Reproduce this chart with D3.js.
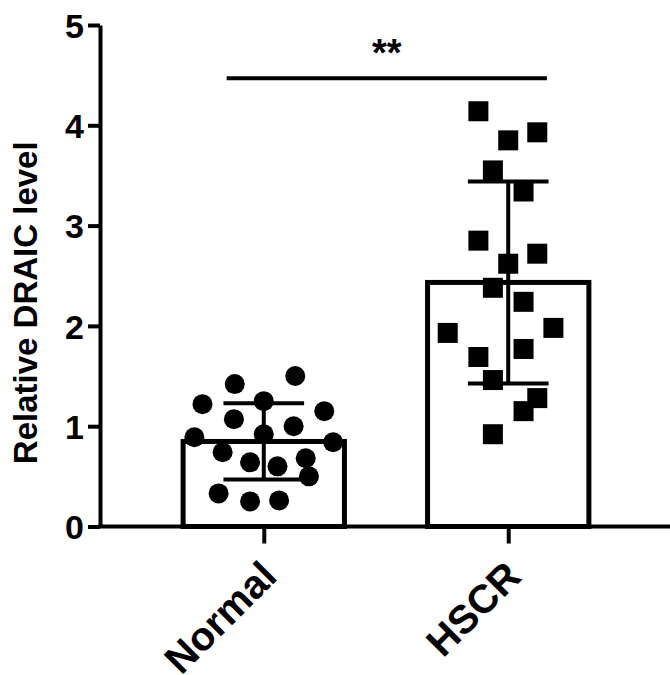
<!DOCTYPE html>
<html>
<head>
<meta charset="utf-8">
<script src="https://cdn.jsdelivr.net/npm/d3@7"></script>
<style>
  html, body { margin: 0; padding: 0; background: #fff; }
  svg text { font-family: "Liberation Sans", Arial, sans-serif; font-weight: bold; fill: #000; }
</style>
</head>
<body>
<div id="chart"></div>
<script>
// values
const groups = ['Normal', 'HSCR']
const normalValues = [1.50, 1.42, 1.22, 1.25, 1.15, 1.07, 1.00, 0.92, 0.89, 0.84, 0.74, 0.64, 0.60, 0.68, 0.50, 0.33, 0.25, 0.26]
const hscrValues = [4.14, 3.93, 3.85, 3.55, 3.34, 2.85, 2.72, 2.62, 2.38, 2.24, 1.93, 1.98, 1.69, 1.77, 1.46, 1.28, 1.15, 0.92]
// horizontal scatter of the dots, as share of half a bar width
const normalJitter = [0.39, -0.36, -0.76, 0, 0.75, -0.37, 0.37, 0, -0.86, 0.86, -0.51, -0.17, 0.17, 0.52, 0.56, -0.56, -0.17, 0.19]
const hscrJitter = [-0.37, 0.36, 0, -0.19, 0.19, -0.37, 0.36, 0, -0.19, 0.19, -0.75, 0.56, -0.37, 0.19, -0.19, 0.36, 0.19, -0.19]
const yTicks = [0, 1, 2, 3, 4, 5]
const yTitle = 'Relative DRAIC level'
const sigLabel = '**'
const sigLevel = 4.47

const width = 670, height = 675
const margin = {top: 25, right: 0, bottom: 148, left: 100}

const svg = d3.select('#chart')
    .append('svg')
        .attr('width', width)
        .attr('height', height)

const x = d3.scalePoint()
    .domain(groups)
    .range([margin.left, 672])
    .padding(0.67)

const y = d3.scaleLinear()
    .domain([0, 5])
    .range([height - margin.bottom - 0.5, margin.top])

const barWidth = x.step() * 0.66
const half = d3.scaleLinear().domain([-1, 1]).range([-barWidth / 2, barWidth / 2])

const series = [
    {name: 'Normal', values: normalValues, jitter: normalJitter, shape: 'circle'},
    {name: 'HSCR', values: hscrValues, jitter: hscrJitter, shape: 'square'}
]
series.forEach(s => {
    s.mean = d3.mean(s.values)
    s.sd = d3.deviation(s.values)
})

// bars
svg.selectAll('rect.bar')
    .data(series)
    .enter().append('rect')
        .attr('class', 'bar')
        .attr('x', d => x(d.name) - barWidth / 2)
        .attr('y', d => y(d.mean))
        .attr('width', barWidth)
        .attr('height', d => y(0) - y(d.mean))
        .attr('fill', '#fff')
        .attr('stroke', '#000')
        .attr('stroke-width', 5)

// error bars (mean +/- SD)
const capWidth = barWidth * 0.5
const err = svg.selectAll('g.err')
    .data(series)
    .enter().append('g')
        .attr('class', 'err')
        .attr('stroke', '#000')
        .attr('stroke-width', 4)
err.append('line')
    .attr('x1', d => x(d.name)).attr('x2', d => x(d.name))
    .attr('y1', d => y(d.mean + d.sd)).attr('y2', d => y(d.mean - d.sd))
err.append('line')
    .attr('x1', d => x(d.name) - capWidth / 2).attr('x2', d => x(d.name) + capWidth / 2)
    .attr('y1', d => y(d.mean + d.sd)).attr('y2', d => y(d.mean + d.sd))
err.append('line')
    .attr('x1', d => x(d.name) - capWidth / 2).attr('x2', d => x(d.name) + capWidth / 2)
    .attr('y1', d => y(d.mean - d.sd)).attr('y2', d => y(d.mean - d.sd))

// dots
const dotSize = 20
series.forEach(s => {
    const pts = s.values.map((v, i) => ({v: v, j: s.jitter[i]}))
    if (s.shape === 'circle') {
        svg.selectAll(null)
            .data(pts)
            .enter().append('circle')
                .attr('cx', d => x(s.name) + half(d.j))
                .attr('cy', d => y(d.v))
                .attr('r', dotSize / 2)
                .attr('fill', '#000')
    } else {
        svg.selectAll(null)
            .data(pts)
            .enter().append('rect')
                .attr('x', d => x(s.name) + half(d.j) - dotSize / 2)
                .attr('y', d => y(d.v) - dotSize / 2)
                .attr('width', dotSize)
                .attr('height', dotSize)
                .attr('fill', '#000')
    }
})

// axes
const yAxis = svg.append('g')
    .attr('transform', `translate(${margin.left}, 0)`)
    .call(d3.axisLeft(y).tickValues(yTicks).tickFormat(d3.format('d')).tickSize(12).tickSizeOuter(0).tickPadding(4))
yAxis.selectAll('path, line').attr('stroke', '#000').attr('stroke-width', 4)
yAxis.selectAll('text').style('font-size', '34px').attr('dy', '0.36em')

const xAxis = svg.append('g')
    .attr('transform', `translate(0, ${y(0)})`)
    .call(d3.axisBottom(x).tickSize(17).tickSizeOuter(0).tickFormat(''))
xAxis.select('path').attr('d', `M${margin.left - 2},0H${width}`)
xAxis.selectAll('path, line').attr('stroke', '#000').attr('stroke-width', 4)

svg.selectAll('text.xlabel')
    .data(groups)
    .enter().append('text')
        .attr('class', 'xlabel')
        .attr('text-anchor', 'end')
        .attr('transform', d => `translate(${x(d) + 15}, ${y(0) + 52}) rotate(-45)`)
        .style('font-size', '40px')
        .text(d => d)

// y title
svg.append('text')
    .attr('transform', `translate(37, ${(y(0) + y(5)) / 2 + 27}) rotate(-90)`)
    .attr('text-anchor', 'middle')
    .style('font-size', '33px')
    .text(yTitle)

// significance
const sigLeft = x('Normal') - barWidth * 0.23
const sigRight = x('HSCR') + barWidth * 0.24
svg.append('line')
    .attr('x1', sigLeft).attr('x2', sigRight)
    .attr('y1', y(sigLevel)).attr('y2', y(sigLevel))
    .attr('stroke', '#000')
    .attr('stroke-width', 4)
svg.append('text')
    .attr('x', (sigLeft + sigRight) / 2)
    .attr('y', y(sigLevel) - 12)
    .attr('text-anchor', 'middle')
    .style('font-size', '38px')
    .text(sigLabel)
</script>
</body>
</html>
